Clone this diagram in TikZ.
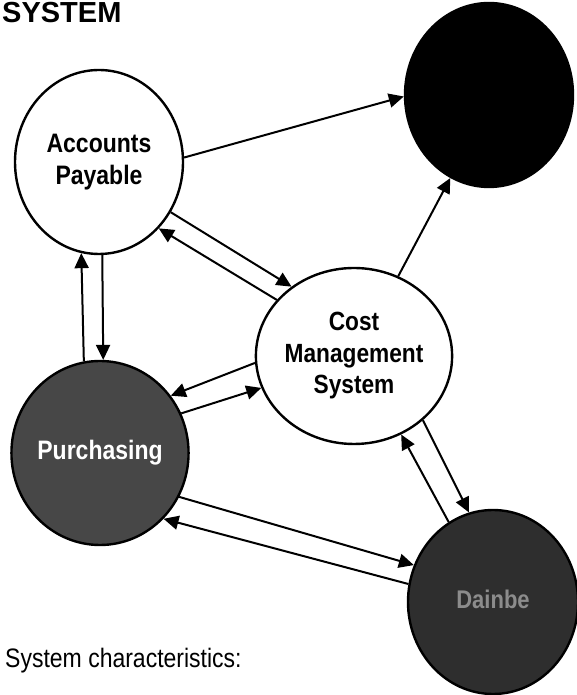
\documentclass[tikz,border=0pt]{standalone}
\usepackage{fontspec}
\setmainfont{Liberation Sans}
\usetikzlibrary{shapes.geometric,arrows.meta}
% narrow, tall lettering: stretch the text vertically
\newcommand{\tallstack}[1]{\scalebox{1}[1.16]{\begin{tabular}{@{}c@{}}#1\end{tabular}}}
\begin{document}
\begin{tikzpicture}[x=1pt,y=1pt,
  module/.style={ellipse,draw=black,line width=2.4pt,inner sep=0pt,
    minimum width=168pt,minimum height=184pt,align=center,
    font=\bfseries\fontsize{23}{27.5}\selectfont},
  flow/.style={line width=2pt,-{Triangle[length=15pt,width=14pt]}}
]
\useasboundingbox (0,0) rectangle (577,695);

% title and caption
\node[anchor=base west,inner sep=0pt,font=\bfseries\fontsize{29}{34}\selectfont] (title) at (2,672) {\scalebox{1}[1.0]{SYSTEM}};
\node[anchor=base west,inner sep=0pt,font=\fontsize{23}{28}\selectfont] (caption) at (5,27) {\scalebox{1}[1.16]{System characteristics:}};

% modules
\node[module,fill=white] (ap) at (99,533) {\tallstack{Accounts\\Payable}};
\node[module,fill=black] (tr) at (489,600) {};
\node[module,fill=white,minimum width=154pt,minimum height=176pt,
      font=\bfseries\fontsize{22.7}{27}\selectfont] (cms) at (354,339) {\tallstack{Cost\\Management\\System}};
\node[module,fill=black!72,text=white,minimum width=166pt] (pu) at (100,242) {\tallstack{Purchasing}};
\node[module,fill=black!82,text=black!45,minimum width=170pt,
      font=\bfseries\fontsize{22}{28}\selectfont] (br) at (493,93) {\tallstack{Dainbe}};

% data flows
\draw[flow] (ap.3.4) -- (tr.181.4);
\draw[flow] (cms.61.8) -- (tr.245.4);
\draw[flow] (pu.100.8) -- (ap.259.9);
\draw[flow] (ap.272.5) -- (pu.88.1);
\draw[flow] (ap.-35.2) -- (cms.132.2);
\draw[flow] (cms.144) -- (ap.-48.2);
\draw[flow] (cms.184.4) -- (pu.39.6);
\draw[flow] (pu.26.9) -- (cms.199.8);
\draw[flow] (pu.-29.2) -- (br.155.9);
\draw[flow] (br.168) -- (pu.-46.4);
\draw[flow] (cms.-43.6) -- (br.105.5);
\draw[flow] (br.119.3) -- (cms.-59.1);
\end{tikzpicture}
\end{document}
